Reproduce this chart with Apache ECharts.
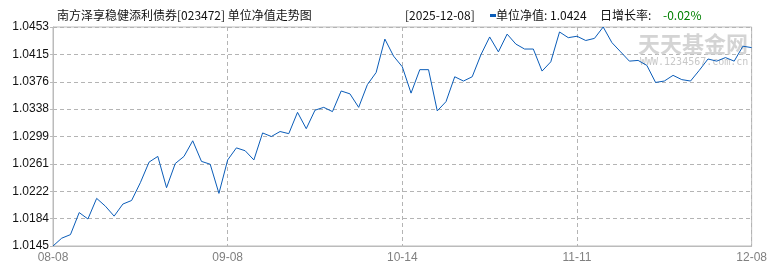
<!DOCTYPE html>
<html><head><meta charset="utf-8">
<script src="https://cdn.jsdelivr.net/npm/echarts@6/dist/echarts.min.js"></script>
<style>html,body{margin:0;padding:0;background:#fff}#c{width:770px;height:270px}</style>
</head><body><div id="c"></div>
<script>
var dates = ["08-08","08-11","08-12","08-13","08-14","08-15","08-18","08-19","08-20","08-21","08-22","08-25","08-26","08-27","08-28","08-29",
"09-01","09-02","09-03","09-04","09-05","09-08","09-09","09-10","09-11","09-12","09-15","09-16","09-17","09-18","09-19","09-22","09-23","09-24","09-25","09-26","09-29","09-30",
"10-09","10-10","10-13","10-14","10-15","10-16","10-17","10-20","10-21","10-22","10-23","10-24","10-27","10-28","10-29","10-30","10-31",
"11-03","11-04","11-05","11-06","11-07","11-10","11-11","11-12","11-13","11-14","11-17","11-18","11-19","11-20","11-21","11-24","11-25","11-26","11-27","11-28",
"12-01","12-02","12-03","12-04","12-05","12-08"];
var nav = [1.0145,1.0156,1.0161,1.0192,1.0183,1.0212,1.0201,1.0187,1.0204,1.0209,1.0234,1.0263,1.0271,1.0227,1.0261,
1.0271,1.0293,1.0264,1.0260,1.0219,1.0266,1.0283,1.0279,1.0266,1.0304,1.0299,1.0306,1.0303,1.0333,1.0310,
1.0336,1.0340,1.0334,1.0363,1.0359,1.0340,1.0372,1.0389,1.0436,1.0412,1.0397,1.0360,1.0393,1.0393,1.0335,
1.0348,1.0383,1.0377,1.0383,1.0414,1.0439,1.0418,1.0443,1.0429,1.0422,1.0422,1.0391,1.0404,1.0446,1.0438,
1.0440,1.0434,1.0437,1.0453,1.0431,1.0418,1.0405,1.0406,1.0399,1.0375,1.0377,1.0385,1.0379,1.0377,1.0392,
1.0408,1.0405,1.0410,1.0405,1.0426,1.0424];
var yTickLabels = ["1.0145","1.0184","1.0222","1.0261","1.0299","1.0338","1.0376","1.0415","1.0453"];
var xTickIndex = [0,20,40,60,80];
var xTickLabels = ["08-08","09-08","10-14","11-11","12-08"];
var yMin = 1.0145, yMax = 1.0453;

var chart = echarts.init(document.getElementById('c'), null, {renderer:'canvas'});
var FONT = '"Noto Sans CJK SC",sans-serif';
var NUMFONT = '"Liberation Sans",Arial,sans-serif';
function isTick(i){ return xTickIndex.indexOf(i) >= 0; }
chart.setOption({
  animation:false,
  grid:{left:53,right:12,top:27,bottom:24,show:true,borderColor:'#bbbbbb',borderWidth:1,containLabel:false},
  xAxis:{type:'category',data:dates,boundaryGap:false,
    axisLine:{lineStyle:{color:'#bbbbbb'}},axisTick:{show:false},
    axisLabel:{interval:function(i){return isTick(i);},color:'#808080',fontSize:12,fontFamily:NUMFONT,margin:6,
      formatter:function(v,i){var k=xTickIndex.indexOf(i);return k>=0?xTickLabels[k]:'';}},
    splitLine:{show:true,interval:function(i){return isTick(i);},lineStyle:{color:'#b4b4b4',type:[4,3],width:1}}},
  yAxis:{type:'value',min:yMin,max:yMax,interval:(yMax-yMin)/8,
    axisLine:{show:true,lineStyle:{color:'#bbbbbb'}},axisTick:{show:true,length:3,lineStyle:{color:'#bbbbbb'}},
    axisLabel:{color:'#111',fontSize:12,fontFamily:NUMFONT,margin:4,
      formatter:function(v,i){return yTickLabels[i]!==undefined?yTickLabels[i]:'';}},
    splitLine:{show:true,lineStyle:{color:'#b4b4b4',type:[4,3],width:1}}},
  series:[{type:'line',data:nav,symbol:'none',lineStyle:{color:'#0a5cb8',width:1},z:3}],
  graphic:[
    {type:'text',x:638,y:33,z:1,style:{text:'天天基金网',fill:'#d4d4d4',font:'bold 22px "Noto Sans CJK SC"'}},
    {type:'text',x:640,y:57,z:1,style:{text:'WWW.1234567.com.cn',fill:'#c8c8c8',font:'10px "DejaVu Sans Mono"'}},
    {type:'text',x:57,y:15,style:{text:'南方泽享稳健添利债券[023472] 单位净值走势图',fill:'#111',font:'12px '+FONT,textVerticalAlign:'middle'}},
    {type:'text',x:405,y:15,style:{text:'[2025-12-08]',fill:'#111',font:'12px '+FONT,textVerticalAlign:'middle'}},
    {type:'rect',shape:{x:490,y:14,width:6,height:3},style:{fill:'#0a5cb8'}},
    {type:'text',x:496,y:15,style:{text:'单位净值: 1.0424',fill:'#111',font:'12px '+FONT,textVerticalAlign:'middle'}},
    {type:'text',x:600,y:15,style:{text:'日增长率:',fill:'#111',font:'12px '+FONT,textVerticalAlign:'middle'}},
    {type:'text',x:663,y:15,style:{text:'-0.02%',fill:'#008000',font:'12px '+FONT,textVerticalAlign:'middle'}}
  ]
});
</script></body></html>
